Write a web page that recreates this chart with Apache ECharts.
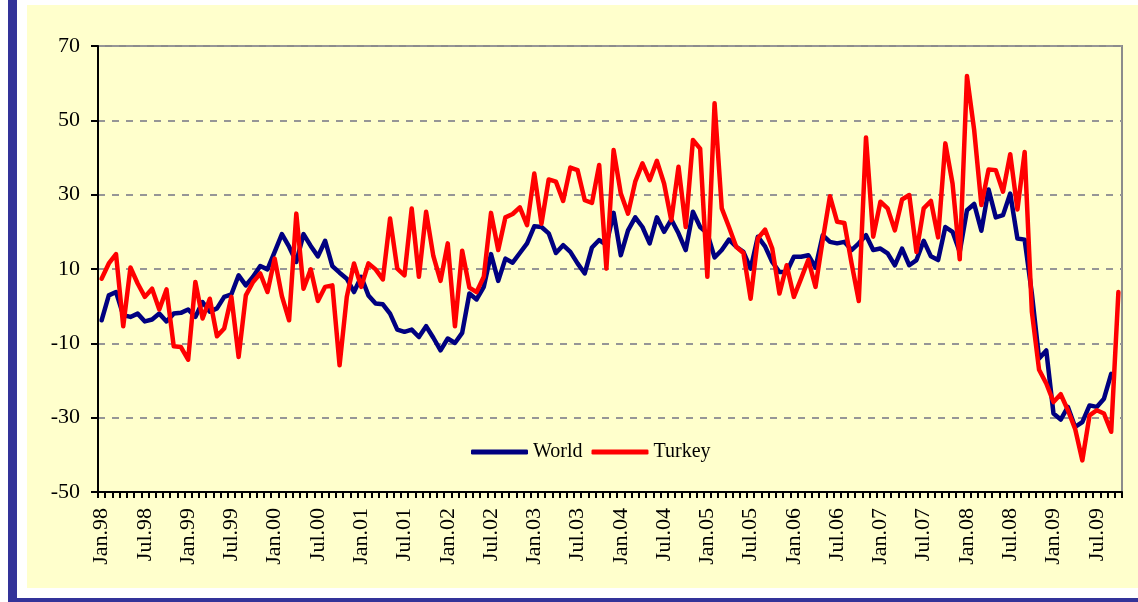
<!DOCTYPE html>
<html>
<head>
<meta charset="utf-8">
<script src="https://cdn.jsdelivr.net/npm/echarts@6/dist/echarts.min.js"></script>
<style>
html,body{margin:0;padding:0;background:#fff;width:1138px;height:602px;overflow:hidden;}
#lbar{position:absolute;left:8px;top:0;width:9px;height:602px;background:#333399;}
#bbar{position:absolute;left:8px;top:598px;width:1130px;height:4px;background:#333399;}
#panel{position:absolute;left:27px;top:5px;width:1111px;height:583px;background:#FFFFCC;}
#chart{position:absolute;left:0;top:0;width:1138px;height:602px;}
</style>
</head>
<body>
<div id="lbar"></div><div id="bbar"></div><div id="panel"></div>
<div id="chart"></div>
<script>
const monthNames = ['Jan','Feb','Mar','Apr','May','Jun','Jul','Aug','Sep','Oct','Nov','Dec'];
const years = ['98','99','00','01','02','03','04','05','06','07','08','09'];
const lastMonthCount = 142; // Jan.98 .. Oct.09
const categories = [];
for (const y of years) for (const m of monthNames) { if (categories.length < lastMonthCount) categories.push(m + '.' + y); }

const world = [
-3.8,2.9,3.8,-2.4,-2.9,-2.0,-4.1,-3.6,-2.0,-4.1,-2.0,-1.8,
-0.9,-2.9,1.1,-1.5,-0.6,2.5,3.2,8.3,5.6,7.9,10.8,9.9,
14.6,19.4,16.0,11.9,19.4,16.2,13.4,17.6,10.8,9.0,7.4,3.8,
7.9,2.9,0.7,0.5,-2.0,-6.3,-6.9,-6.3,-8.3,-5.4,-8.5,-11.9,
-8.7,-9.9,-7.2,3.4,1.8,5.2,14.0,6.8,12.8,11.7,14.3,16.9,
21.5,21.3,19.6,14.3,16.4,14.6,11.5,8.8,15.8,17.8,16.5,25.1,
13.7,20.4,23.9,21.3,16.9,23.9,20.0,23.3,19.6,15.1,25.4,21.3,
19.6,13.1,15.1,17.9,16.0,14.6,10.1,18.7,16.1,11.9,9.2,9.2,
13.3,13.3,13.7,10.4,19.1,17.3,16.9,17.3,15.1,16.9,19.1,15.1,
15.5,14.2,11.0,15.5,11.0,12.4,17.6,13.4,12.4,21.3,20.0,14.6,
25.8,27.5,20.3,31.4,23.9,24.5,30.3,18.2,17.9,3.4,-14.1,-11.9,
-28.9,-30.5,-27.1,-32.5,-31.2,-26.7,-27.1,-24.9,-18.2,null
];
const turkey = [
7.4,11.5,14.0,-5.4,10.4,6.1,2.5,4.7,-0.9,4.5,-10.8,-11.0,
-14.4,6.5,-3.3,2.0,-8.1,-6.0,2.5,-13.7,2.9,6.5,8.8,3.8,
12.8,2.7,-3.8,24.9,4.7,9.9,1.4,5.2,5.6,-15.9,2.5,11.5,
5.2,11.5,9.9,7.2,23.6,10.1,8.3,26.3,7.9,25.4,13.5,6.8,
16.9,-5.4,14.9,5.0,3.8,7.9,25.1,15.1,23.9,24.8,26.6,21.8,
35.7,22.2,34.1,33.5,28.3,37.3,36.6,28.5,27.8,38.0,10.1,42.0,
30.3,24.9,33.5,38.4,33.9,39.1,33.0,23.1,37.5,21.3,44.7,42.4,
7.9,54.6,26.3,21.3,16.0,14.3,2.0,18.2,20.6,15.5,3.4,11.0,
2.5,7.4,12.5,5.2,17.8,29.6,22.7,22.4,11.5,1.4,45.4,18.7,
28.1,26.3,20.4,28.7,29.9,14.6,26.3,28.3,18.5,43.8,33.0,12.6,
61.9,47.4,27.2,36.8,36.6,30.8,40.9,26.0,41.5,-1.5,-17.1,-20.8,
-25.8,-23.7,-28.0,-33.0,-41.5,-29.4,-28.0,-28.9,-33.8,3.8
];
const yTicks = {min: -50, max: 70, step: 20};

const font = 'Liberation Serif';
const chart = echarts.init(document.getElementById('chart'), null, {renderer: 'canvas'});
chart.setOption({
  animation: false,
  backgroundColor: 'transparent',
  textStyle: {fontFamily: font},
  grid: {left: 98, top: 46, right: 16, bottom: 110, show: true, borderColor: '#8c8c8c', borderWidth: 2, backgroundColor: 'transparent', containLabel: false},
  legend: {
    left: 471, top: 442, itemGap: 9, itemWidth: 57, itemHeight: 5, padding: 0,
    icon: 'roundRect',
    textStyle: {fontFamily: font, fontSize: 20, color: '#000'},
    data: ['World', 'Turkey']
  },
  xAxis: {
    type: 'category', data: categories, boundaryGap: true,
    axisLine: {onZero: false, lineStyle: {color: '#000', width: 2}},
    axisTick: {show: true, interval: 0, length: 6, lineStyle: {color: '#000', width: 2}},
    axisLabel: {interval: 5, rotate: 90, margin: 16, fontFamily: font, fontSize: 22, color: '#000'},
    splitLine: {show: false}
  },
  yAxis: {
    type: 'value', min: yTicks.min, max: yTicks.max, interval: yTicks.step,
    axisLine: {show: true, onZero: false, lineStyle: {color: '#000', width: 2}},
    axisTick: {show: true, length: 7, lineStyle: {color: '#000', width: 2}},
    axisLabel: {margin: 18, fontFamily: font, fontSize: 22, color: '#000'},
    splitLine: {show: true, lineStyle: {color: '#969696', width: 2, type: [7, 7]}}
  },
  series: [
    {name: 'World', type: 'line', data: world, showSymbol: false, symbol: 'none', color: '#000080',
     lineStyle: {width: 4.5, color: '#000080', join: 'round', cap: 'round'}, z: 3},
    {name: 'Turkey', type: 'line', data: turkey, showSymbol: false, symbol: 'none', color: '#FF0000',
     lineStyle: {width: 4.5, color: '#FF0000', join: 'round', cap: 'round'}, z: 4}
  ]
});
</script>
</body>
</html>
